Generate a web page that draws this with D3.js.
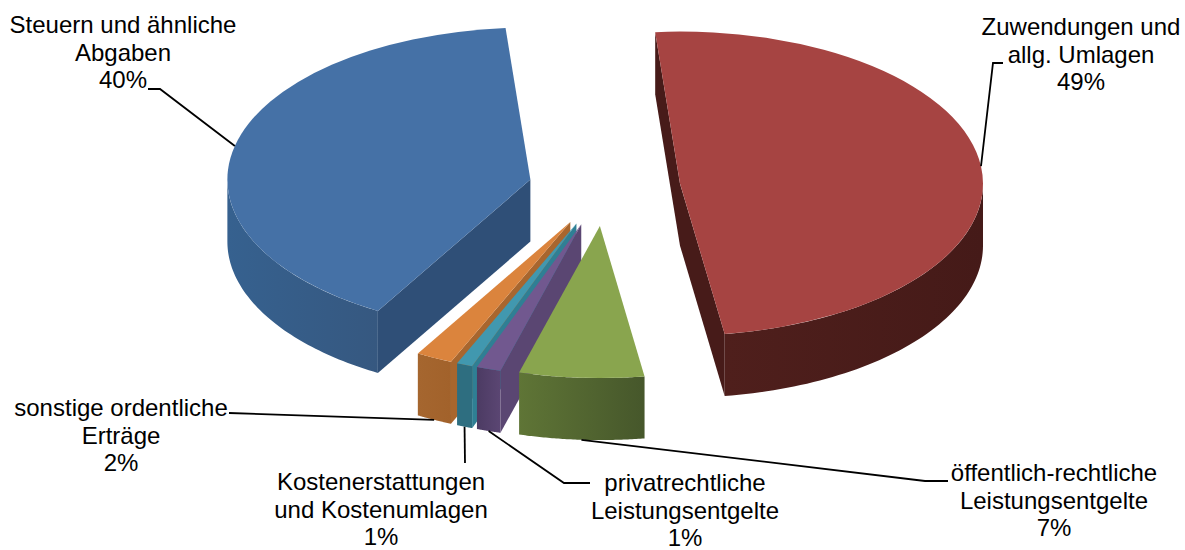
<!DOCTYPE html>
<html>
<head>
<meta charset="utf-8">
<style>
  html, body { margin: 0; padding: 0; background: #fff; }
  svg { display: block; }
  text { font-family: "Liberation Sans", Arial, sans-serif; font-size: 24px; fill: #000; text-anchor: middle; }
</style>
</head>
<body>
<script src="https://cdn.jsdelivr.net/npm/d3@7/dist/d3.min.js"></script>
<script>
// Data (clockwise from the top of the pie)
const categories = [
  ['Zuwendungen und', 'allg. Umlagen'],
  ['öffentlich-rechtliche', 'Leistungsentgelte'],
  ['privatrechtliche', 'Leistungsentgelte'],
  ['Kostenerstattungen', 'und Kostenumlagen'],
  ['sonstige ordentliche', 'Erträge'],
  ['Steuern und ähnliche', 'Abgaben']
];
const shares = [48.95, 6.65, 1.3, 0.85, 1.95, 40.3];

// Colours per slice
const topColors = ['#A64442', '#89A54E', '#71588F', '#4198AF', '#DB843D', '#4571A6'];
const sideColors = ['#471B19', '#5A4A2A', '#5A4672', '#2F7F94', '#A8662E', '#2F4F77'];
const wallLeft = ['#4F1F1C', '#5F7536', '#4C3B63', '#2E6E80', '#A5662F', '#36618F'];
const wallRight = ['#451A18', '#46572B', '#5B4673', '#2E6E80', '#A2622B', '#365880'];

// Label placement: text centre, first baseline, and the leader's way from the slice to the text
const labelCenters = [1081, 1054, 685, 381, 121, 123];
const labelBaselines = [35, 481, 491, 490, 416, 33];
const leaderBends = [
  [[993, 63], [1003, 63]],
  [[925, 481], [948, 481]],
  [[564, 483], [590, 483]],
  [[465, 463]],
  [[229, 413]],
  [[160, 89], [148, 89]]
];

const width = 1185, height = 550;
const rx = 303, ry = 152, depth = 62;
const centerX = 604.5, centerY = 188, explode = 76;
const lineGap = 27.7;
const startAngle = -4.7 * Math.PI / 180;

const svg = d3.select('body').append('svg')
  .attr('width', width).attr('height', height);
const defs = svg.append('defs');

const pie = d3.pie().sort(null).startAngle(startAngle).endAngle(startAngle + 2 * Math.PI);
const arcs = pie(shares);
const slices = arcs.map((a, i) => {
  const mid = (a.startAngle + a.endAngle) / 2;
  return {
    i: i,
    a0: a.startAngle,
    a1: a.endAngle,
    mid: mid,
    x: centerX + explode * Math.sin(mid),
    y: centerY - explode * (ry / rx) * Math.cos(mid)
  };
});

function rim(s, angle, drop) {
  return [s.x + rx * Math.sin(angle), s.y - ry * Math.cos(angle) + (drop || 0)];
}

const line = d3.line();
const topArc = d3.arc().innerRadius(0).outerRadius(rx);

// Far slices first, near slices last
const drawOrder = [5, 0, 4, 3, 2, 1];

drawOrder.forEach(idx => {
  const s = slices[idx];
  const g = svg.append('g');

  // Flat cut walls, only those that face the viewer
  if (Math.sin(s.a0) < 0) {
    const p = rim(s, s.a0);
    g.append('path').attr('fill', sideColors[idx])
      .attr('d', line([[s.x, s.y], p, [p[0], p[1] + depth], [s.x, s.y + depth]]) + 'Z');
  }
  if (Math.sin(s.a1) > 0) {
    const p = rim(s, s.a1);
    g.append('path').attr('fill', sideColors[idx])
      .attr('d', line([[s.x, s.y], p, [p[0], p[1] + depth], [s.x, s.y + depth]]) + 'Z');
  }

  // Curved outer wall, the part on the front half of the ellipse
  const from = Math.max(s.a0, Math.PI / 2);
  const to = Math.min(s.a1, Math.PI * 1.5);
  if (to > from) {
    const steps = d3.range(0, 61).map(k => from + (to - from) * k / 60);
    const upper = steps.map(t => rim(s, t));
    const lower = steps.slice().reverse().map(t => rim(s, t, depth));
    const xs = upper.map(d => d[0]);
    const grad = defs.append('linearGradient')
      .attr('id', 'wall' + idx)
      .attr('gradientUnits', 'userSpaceOnUse')
      .attr('x1', d3.min(xs)).attr('x2', d3.max(xs))
      .attr('y1', 0).attr('y2', 0);
    grad.append('stop').attr('offset', 0).attr('stop-color', wallLeft[idx]);
    grad.append('stop').attr('offset', 1).attr('stop-color', wallRight[idx]);
    g.append('path').attr('fill', 'url(#wall' + idx + ')')
      .attr('d', line(upper.concat(lower)) + 'Z');
  }

  // Top face: a flat arc squeezed into the ellipse
  g.append('path')
    .attr('fill', topColors[idx])
    .attr('transform', `translate(${s.x},${s.y}) scale(1,${ry / rx})`)
    .attr('d', topArc({ startAngle: s.a0, endAngle: s.a1 }));
});

// Leaders start on the rim at the middle of the slice; front slices hang from the wall's lower edge
const leaders = svg.append('g').attr('fill', 'none').attr('stroke', '#000').attr('stroke-width', 1.8);
slices.forEach(s => {
  const onFront = Math.cos(s.mid) < 0;
  const pts = [rim(s, s.mid, onFront ? depth : 0)].concat(leaderBends[s.i]);
  leaders.append('path').attr('d', line(pts));
});

// Labels: category lines, then the rounded share
const fmt = d3.format('.0f');
slices.forEach(s => {
  const lines = categories[s.i].concat(fmt(shares[s.i]) + '%');
  const t = svg.append('text');
  lines.forEach((txt, k) => {
    t.append('tspan')
      .attr('x', labelCenters[s.i])
      .attr('y', labelBaselines[s.i] + k * lineGap)
      .text(txt);
  });
});
</script>
</body>
</html>
